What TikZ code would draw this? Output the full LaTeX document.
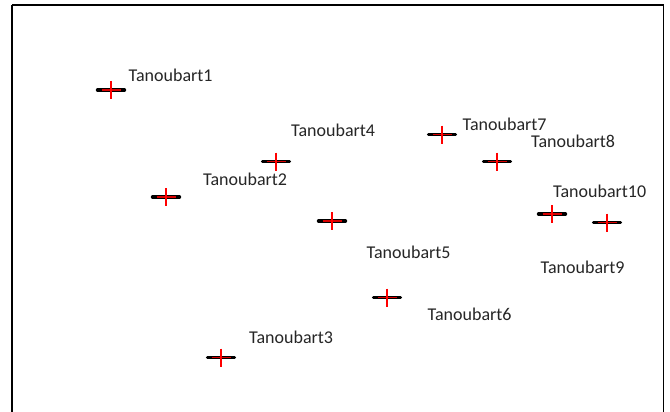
\documentclass[tikz,border=0pt]{standalone}
\usepackage{fontspec}
\setmainfont{Carlito}
\begin{document}
\begin{tikzpicture}[x=1pt,y=-1pt,
  frame/.style={draw=black,line width=1.6pt},
  barblack/.style={draw=black,line width=3.4pt,line cap=round},
  barred/.style={draw=red!85!black,line width=1.4pt},
  barcross/.style={draw=red,line width=1.2pt},
  stationlabel/.style={anchor=base west,inner sep=0pt,font=\fontsize{18}{20}\selectfont,text=black!85},
  pics/stationmark/.style={code={
    \draw[barblack] (-13.5,0) -- (13.5,0);
    \draw[barred] (-9.5,0) -- (9.5,0);
    \draw[barcross] (0,-9) -- (0,9);
  }}]
  \useasboundingbox (0,0) rectangle (670,412);
  \fill[white] (0,0) rectangle (670,412);
  % plot frame (its lower edge lies below the visible area)
  \draw[frame] (12,5) -- (663.5,5) -- (663.5,420);
  \draw[frame] (12,5) -- (12,420);

  % station positions
  \coordinate (p1) at (111,90);
  \coordinate (p2) at (166,197);
  \coordinate (p3) at (221,357.5);
  \coordinate (p4) at (276,161.5);
  \coordinate (p5) at (332,221);
  \coordinate (p6) at (387,297.5);
  \coordinate (p7) at (442,134.5);
  \coordinate (p8) at (497,161.5);
  \coordinate (p9) at (607,222.5);
  \coordinate (p10) at (552,214);

  \foreach \i in {1,...,10} {\pic at (p\i) {stationmark};}

  % station labels
  \node[stationlabel] (l1) at (128.5,81.5) {Tanoubart1};
  \node[stationlabel] (l2) at (203,185) {Tanoubart2};
  \node[stationlabel] (l3) at (249,343.5) {Tanoubart3};
  \node[stationlabel] (l4) at (291,136.5) {Tanoubart4};
  \node[stationlabel] (l5) at (366.5,258.5) {Tanoubart5};
  \node[stationlabel] (l6) at (427.5,320) {Tanoubart6};
  \node[stationlabel] (l7) at (462.5,130) {Tanoubart7};
  \node[stationlabel] (l8) at (531,147) {Tanoubart8};
  \node[stationlabel] (l9) at (540.5,273.5) {Tanoubart9};
  \node[stationlabel] (l10) at (553,197.5) {Tanoubart10};
\end{tikzpicture}
\end{document}
